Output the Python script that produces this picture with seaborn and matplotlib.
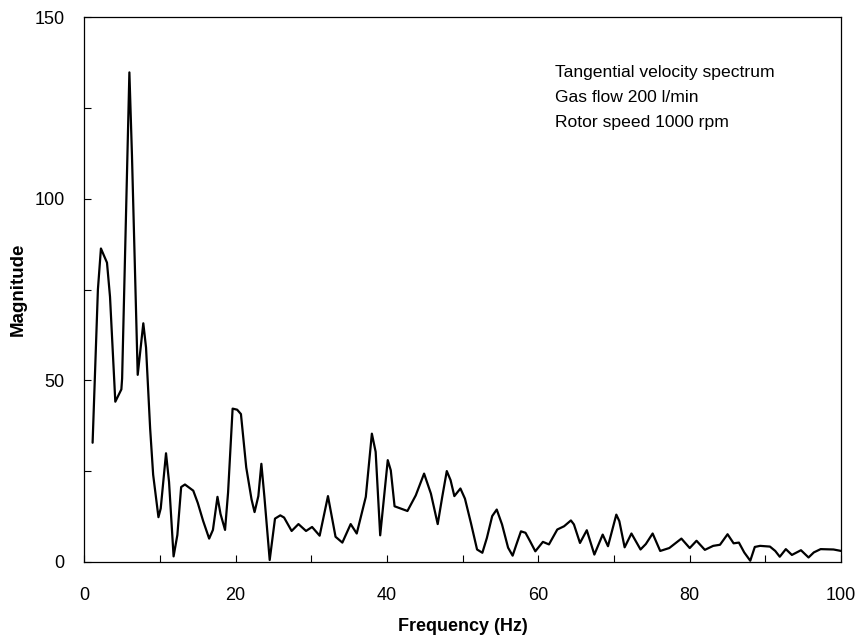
import matplotlib
matplotlib.use("Agg")
import matplotlib.pyplot as plt
import seaborn as sns
import pandas as pd
from matplotlib.ticker import MultipleLocator

freq = [1.1, 1.8, 2.2, 3.0, 3.4, 4.1, 4.9, 5.0, 5.96, 6.3, 7.06, 7.8, 8.16, 8.7, 9.1, 9.8,
        10.1, 10.8, 11.2, 11.8, 12.3, 12.8, 13.3, 14.4, 15.0, 15.7, 16.5, 17.0, 17.6, 18.0,
        18.6, 19.0, 19.6, 20.2, 20.7, 21.4, 22.1, 22.5, 23.0, 23.4, 23.8, 24.5, 25.2, 25.9,
        26.4, 27.4, 28.3, 29.3, 30.1, 31.1, 32.2, 33.2, 34.1, 35.2, 36.0, 37.2, 38.0, 38.5,
        39.1, 40.1, 40.5, 41.0, 41.8, 42.7, 43.8, 44.9, 45.8, 46.7, 47.3, 47.9, 48.4, 48.9,
        49.7, 50.3, 51.1, 51.9, 52.6, 53.2, 53.9, 54.5, 55.2, 56.0, 56.6, 57.1, 57.7, 58.3,
        58.9, 59.6, 60.6, 61.4, 62.5, 63.4, 64.3, 64.7, 65.5, 66.4, 67.4, 68.5, 69.2, 70.3,
        70.7, 71.4, 72.3, 73.5, 74.2, 75.1, 76.1, 77.3, 78.9, 80.0, 80.9, 82.0, 83.1, 84.0,
        85.0, 85.8, 86.5, 87.2, 88.0, 88.6, 89.3, 90.6, 91.3, 91.9, 92.7, 93.5, 94.7, 95.7,
        96.4, 97.3, 99.0, 100.0]
magnitude = [32.8, 75.0, 86.3, 82.4, 73.0, 44.1, 47.5, 50.5, 134.8, 112.0, 51.5, 65.7, 59.0,
             36.8, 24.0, 12.3, 14.7, 29.9, 22.0, 1.5, 7.4, 20.6, 21.3, 19.6, 16.2, 11.3, 6.4,
             8.8, 17.9, 13.2, 8.8, 19.1, 42.2, 41.9, 40.7, 26.0, 17.2, 13.7, 18.1, 27.0, 17.9,
             0.5, 11.9, 12.8, 12.2, 8.5, 10.4, 8.5, 9.6, 7.2, 18.1, 6.9, 5.3, 10.4, 7.8, 17.9,
             35.3, 30.3, 7.3, 28.0, 25.2, 15.3, 14.7, 14.0, 18.3, 24.3, 18.8, 10.4, 17.9, 25.0,
             22.5, 18.1, 20.2, 17.4, 10.6, 3.4, 2.5, 6.6, 12.6, 14.4, 10.3, 3.9, 1.7, 4.8, 8.4,
             8.0, 5.7, 2.9, 5.5, 4.8, 8.9, 9.8, 11.4, 10.3, 5.2, 8.7, 2.0, 7.5, 4.3, 13.0, 11.2,
             4.0, 7.8, 3.4, 4.9, 7.8, 3.0, 3.8, 6.4, 3.8, 5.8, 3.3, 4.4, 4.7, 7.6, 5.1, 5.3, 2.6,
             0.3, 4.1, 4.4, 4.2, 3.0, 1.4, 3.5, 1.9, 3.2, 1.2, 2.6, 3.5, 3.4, 3.0]

annotation = ["Tangential velocity spectrum", "Gas flow 200 l/min", "Rotor speed 1000 rpm"]

sns.set_theme(style="white")
plt.rcParams["font.family"] = ["Liberation Sans", "DejaVu Sans"]
plt.rcParams["text.color"] = "black"
plt.rcParams["axes.labelcolor"] = "black"

df = pd.DataFrame({"Frequency (Hz)": freq, "Magnitude": magnitude})

fig = plt.figure(figsize=(8.6, 6.37), dpi=100)
ax = fig.add_axes([0.098, 0.118, 0.88, 0.855])
sns.lineplot(data=df, x="Frequency (Hz)", y="Magnitude", ax=ax, color="black", linewidth=1.6)

ax.set_xlim(0, 100)
ax.set_ylim(0, 150)
ax.xaxis.set_major_locator(MultipleLocator(20))
ax.xaxis.set_minor_locator(MultipleLocator(10))
ax.yaxis.set_major_locator(MultipleLocator(50))
ax.yaxis.set_minor_locator(MultipleLocator(25))
ax.tick_params(which="both", direction="in", length=5, width=0.8, colors="black",
               labelsize=13, bottom=True, left=True, top=False, right=False)
ax.tick_params(axis="x", which="major", pad=18)
ax.tick_params(axis="y", which="major", pad=14)
for s in ax.spines.values():
    s.set_color("black")
    s.set_linewidth(0.9)

ax.set_xlabel("Frequency (Hz)", fontsize=13, fontweight="bold", labelpad=10.5)
ax.set_ylabel("Magnitude", fontsize=13.5, fontweight="bold", labelpad=6)

ax.text(62.2, 136.8, "\n".join(annotation), fontsize=12.6,
        va="top", ha="left", linespacing=1.82, color="black")

fig.savefig("out.png", dpi=100)
